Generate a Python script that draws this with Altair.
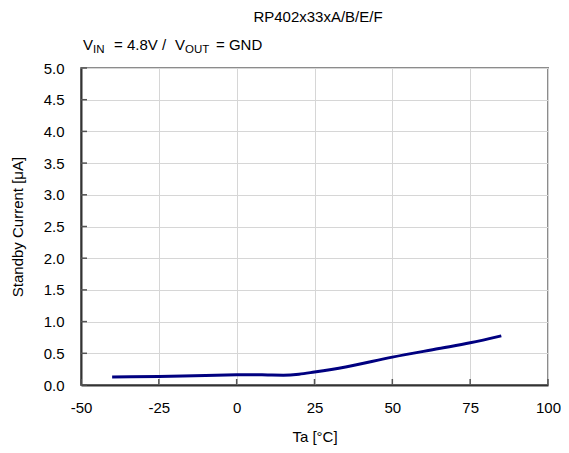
import altair as alt
import pandas as pd

temps = [-40, -25, -10, 0, 5, 10, 15, 20, 25, 35, 50, 65, 75, 85]
current = [0.125, 0.135, 0.15, 0.16, 0.162, 0.158, 0.155, 0.17, 0.205, 0.285, 0.44, 0.575, 0.665, 0.775]

x_ticks = [-50, -25, 0, 25, 50, 75, 100]
y_ticks = [0.0, 0.5, 1.0, 1.5, 2.0, 2.5, 3.0, 3.5, 4.0, 4.5, 5.0]

title_text = "RP402x33xA/B/E/F"
sub_parts = [
    {"t": "V", "x": 2, "y": -18, "s": 15},
    {"t": "IN", "x": 12, "y": -15, "s": 11.5},
    {"t": "= 4.8V /", "x": 33, "y": -18, "s": 15},
    {"t": "V", "x": 94, "y": -18, "s": 15},
    {"t": "OUT", "x": 104, "y": -15, "s": 11.5},
    {"t": "= GND", "x": 135, "y": -18, "s": 15},
]

FONT = "Liberation Sans"
W, H = 467, 317

df = pd.DataFrame({"Ta": temps, "I": current})
xs = alt.Scale(domain=[-50, 100], nice=False)
ys = alt.Scale(domain=[0, 5], nice=False)
x_axis = alt.Axis(values=x_ticks, title="Ta [°C]", labelExpr="toString(datum.value)")
y_axis = alt.Axis(values=y_ticks, title="Standby Current [μA]", format=".1f")

line = alt.Chart(df).mark_line(color="#000080", strokeWidth=3, interpolate="monotone").encode(
    x=alt.X("Ta:Q", scale=xs, axis=x_axis),
    y=alt.Y("I:Q", scale=ys, axis=y_axis),
)

ytick_marks = alt.Chart(pd.DataFrame({"v": y_ticks})).mark_rule(color="#555555", strokeWidth=1.5).encode(
    y=alt.Y("v:Q", scale=ys, axis=y_axis), x=alt.value(0), x2=alt.value(6)
)
xtick_marks = alt.Chart(pd.DataFrame({"v": x_ticks})).mark_rule(color="#555555", strokeWidth=1.5).encode(
    x=alt.X("v:Q", scale=xs, axis=x_axis), y=alt.value(H), y2=alt.value(H - 6)
)

title_mark = alt.Chart(pd.DataFrame({"t": [title_text]})).mark_text(
    font=FONT, fontSize=15, align="center", baseline="middle", color="#000"
).encode(text="t:N", x=alt.value(237), y=alt.value(-51))

layers = [line, ytick_marks, xtick_marks, title_mark]
for p in sub_parts:
    layers.append(
        alt.Chart(pd.DataFrame({"t": [p["t"]]})).mark_text(
            font=FONT, fontSize=p["s"], align="left", baseline="alphabetic", color="#000"
        ).encode(text="t:N", x=alt.value(p["x"]), y=alt.value(p["y"]))
    )

chart = alt.layer(*layers).properties(
    width=W, height=H,
    autosize=alt.AutoSizeParams(type="none"),
    padding={"left": 73, "top": 60, "right": 13, "bottom": 60},
).configure_view(
    stroke="#8c8c8c", strokeWidth=2
).configure_axis(
    labelFont=FONT, titleFont=FONT, labelFontSize=15, titleFontSize=15,
    labelColor="#000", titleColor="#000", titleFontWeight="normal",
    grid=True, gridColor="#d6d6d6", gridWidth=1,
    domainColor="#333333", domainWidth=2, ticks=False,
    labelFlush=False, labelOverlap=False,
).configure_axisX(
    labelPadding=15, titlePadding=14, labelAngle=0,
).configure_axisY(
    labelPadding=17, titlePadding=18,
)

chart.save("out.html", embed_options={"renderer": "svg", "actions": False})
